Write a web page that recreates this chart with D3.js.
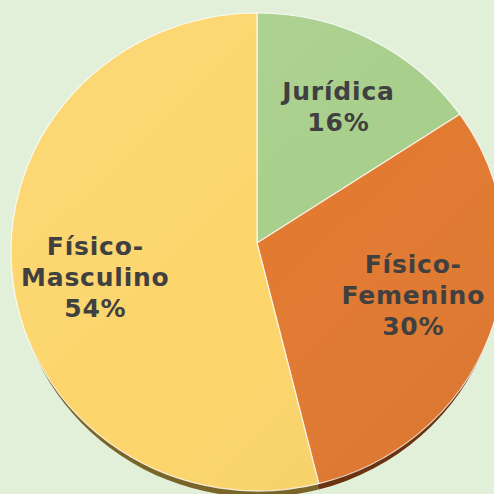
<!DOCTYPE html>
<html><head><meta charset="utf-8">
<script src="https://cdn.jsdelivr.net/npm/d3@7"></script>
<style>html,body{margin:0;padding:0;background:#e2efd9;}svg{display:block;}</style>
</head><body>
<svg id="c" width="494" height="494"></svg>
<script>
const categories = ["Jurídica", "Físico-Femenino", "Físico-Masculino"];
const values = [16, 30, 54];
const labelLines = [["Jurídica", "16%"], ["Físico-", "Femenino", "30%"], ["Físico-", "Masculino", "54%"]];
const colors = ["#a9cf8c", "#e27a31", "#fcd56b"];
const sideColors = ["#55703f", "#6b3210", "#7a6529"];

(function () {
const cx = 258, cy = 252, rx = 247, ry = 239, depth = 6;
const ax = 257, ay = 243; // apex of the tilted pie
const svg = d3.select("#c");
const defs = svg.append("defs");
const g = defs.append("linearGradient").attr("id", "shade").attr("x1", "0").attr("y1", "0").attr("x2", "1").attr("y2", "1");
g.append("stop").attr("offset", "0").attr("stop-color", "#fff").attr("stop-opacity", 0.10);
g.append("stop").attr("offset", "0.5").attr("stop-color", "#fff").attr("stop-opacity", 0);
g.append("stop").attr("offset", "1").attr("stop-color", "#000").attr("stop-opacity", 0.06);

const pie = d3.pie().sort(null).value(d => d).startAngle(0).endAngle(2 * Math.PI);
const arcs = pie(values);

function rim(a, ecx, ecy, erx, ery, px, py) {
  const dx = Math.sin(a), dy = -Math.cos(a);
  const ox = (px - ecx) / erx, oy = (py - ecy) / ery;
  const vx = dx / erx, vy = dy / ery;
  const A = vx * vx + vy * vy, B = 2 * (ox * vx + oy * vy), C = ox * ox + oy * oy - 1;
  const s = (-B + Math.sqrt(B * B - 4 * A * C)) / (2 * A);
  return [px + s * dx, py + s * dy];
}
function slicePath(d, ecx, ecy, erx, ery, px, py) {
  const p0 = rim(d.startAngle, ecx, ecy, erx, ery, px, py);
  const p1 = rim(d.endAngle, ecx, ecy, erx, ery, px, py);
  const large = (d.endAngle - d.startAngle) > Math.PI ? 1 : 0;
  return `M${px},${py}L${p0[0]},${p0[1]}A${erx},${ery} 0 ${large} 1 ${p1[0]},${p1[1]}Z`;
}

svg.append("g").selectAll("path").data(arcs).join("path")
  .attr("d", d => slicePath(d, cx, cy + depth, rx - 3, ry, ax, ay + depth))
  .attr("fill", (d, i) => sideColors[i]);

svg.append("g").selectAll("path").data(arcs).join("path")
  .attr("d", d => slicePath(d, cx, cy, rx, ry, ax, ay))
  .attr("fill", (d, i) => colors[i])
  .attr("stroke", "#fff").attr("stroke-opacity", 0.8).attr("stroke-width", 1.2)
  .attr("stroke-linejoin", "round");
svg.append("ellipse").attr("cx", cx).attr("cy", cy).attr("rx", rx).attr("ry", ry)
  .attr("fill", "url(#shade)");

const labelArc = d3.arc().innerRadius(167).outerRadius(167);
const sy = ry / rx;
const nudge = [[0, -4], [0, -16], [3, 5]];
const lh = 31;
const lab = svg.append("g");
arcs.forEach((d, i) => {
  const [x, y] = labelArc.centroid(d);
  const px = cx + x + nudge[i][0], py = cy + y * sy + nudge[i][1];
  const lines = labelLines[i];
  const t = lab.append("text").attr("text-anchor", "middle")
    .attr("font-family", "DejaVu Sans, Verdana, sans-serif").attr("font-weight", "bold")
    .attr("font-size", 25).attr("letter-spacing", 0.8).attr("fill", "#404040");
  lines.forEach((s, k) => {
    t.append("tspan").attr("x", px).attr("y", py + (k - (lines.length - 1) / 2) * lh + 9).text(s);
  });
});
})();
</script>
</body></html>
